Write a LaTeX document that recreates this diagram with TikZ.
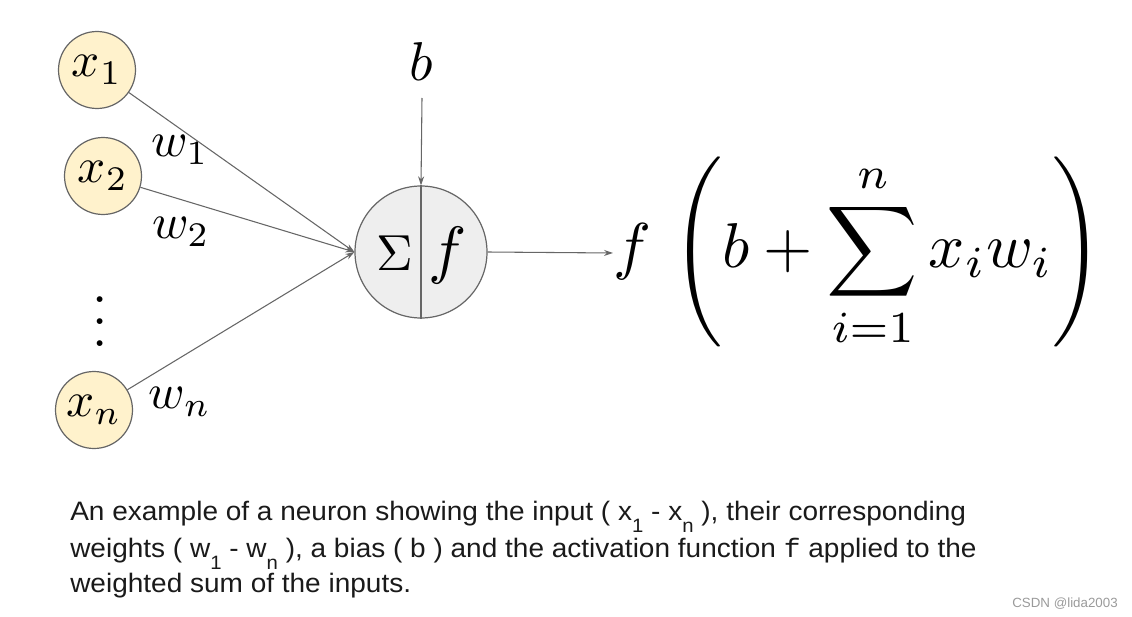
\documentclass[tikz,border=0pt]{standalone}
\usepackage{amsmath}
\usepackage{fontspec}
\newfontfamily\capfont{Liberation Sans}
\newfontfamily\capmono{Liberation Mono}
\usetikzlibrary{arrows.meta}
\definecolor{inputfill}{HTML}{FFF2CC}
\definecolor{neuronfill}{HTML}{EEEEEE}
\definecolor{edgegray}{HTML}{666666}
\definecolor{captext}{HTML}{1A1A1A}
\definecolor{wmgray}{HTML}{9A9A9A}
\newcommand{\lblmath}[1]{\scalebox{3.7}{#1}}
\newcommand{\capsub}[1]{\raisebox{-9pt}{\fontsize{14.5}{14.5}\selectfont #1}}
\newcommand{\capline}[1]{\scalebox{1.05}[1]{#1}}
\tikzset{
  inputnode/.style={circle, draw=edgegray, fill=inputfill, line width=0.9pt, minimum size=57.75pt, inner sep=0pt},
  neuronnode/.style={circle, draw=edgegray, fill=neuronfill, line width=0.9pt, minimum size=99pt, inner sep=0pt},
  mathlabel/.style={inner sep=0pt},
  wire/.style={draw=edgegray, line width=0.8pt, -{Stealth[length=6.75pt,width=4.5pt]}},
  capstyle/.style={anchor=base west, inner sep=0pt, font=\capfont\fontsize{20}{24}\selectfont, text=captext},
}
\begin{document}
\begin{tikzpicture}[x=0.75pt, y=-0.75pt]
\useasboundingbox (0,0) rectangle (1132,617);
% inputs
\node[inputnode] (x1) at (97,70) {\lblmath{$x_1$}};
\node[inputnode] (x2) at (103,176) {\lblmath{$x_2$}};
\node[inputnode] (xn) at (94,410) {\lblmath{$x_n$}};
\node[mathlabel] (dots) at (100,305) {\scalebox{4.1}{$\vdots$}};
% neuron
\node[neuronnode] (n) at (421,252) {};
\draw[edgegray, line width=0.8pt] (n.north) -- (n.south);
\node[mathlabel] (sig) at (395,253) {\scalebox{3.8}{$\Sigma$}};
\node[mathlabel] (fn) at (448,255) {\scalebox{4.8}{$f$}};
% weights
\node[mathlabel] (w1) at (180,150) {\lblmath{$w_1$}};
\node[mathlabel] (w2) at (181,232) {\lblmath{$w_2$}};
\node[mathlabel] (wn) at (180,402) {\lblmath{$w_n$}};
% bias
\node[mathlabel] (b) at (421,62) {\scalebox{4.1}{$b$}};
\coordinate (btop) at (422,98);
% output formula
\node[mathlabel, anchor=west] (out) at (613,253) {\scalebox{4.75}{$\displaystyle f\,\left(b+\sum_{i=1}^{n}x_iw_i\right)$}};
% connectors
\draw[wire] (x1) -- (n.west);
\draw[wire] (x2) -- (n.west);
\draw[wire] (xn) -- (n.west);
\draw[wire] (btop) -- (n.north);
\draw[wire] (n.east) -- (out.west);
% caption
\node[capstyle] (c1) at (70,520) {\capline{An example of a neuron showing the input ( x\capsub{1} - x\capsub{n} ), their corresponding}};
\node[capstyle] (c2) at (70,557) {\capline{weights ( w\capsub{1} - w\capsub{n} ), a bias ( b ) and the activation function {\capmono f} applied to the}};
\node[capstyle] (c3) at (70,592) {\capline{weighted sum of the inputs.}};
\node[anchor=base east, inner sep=0pt, font=\capfont\fontsize{10}{12}\selectfont, text=wmgray] (wm) at (1118,607) {CSDN @lida2003};
\end{tikzpicture}
\end{document}
